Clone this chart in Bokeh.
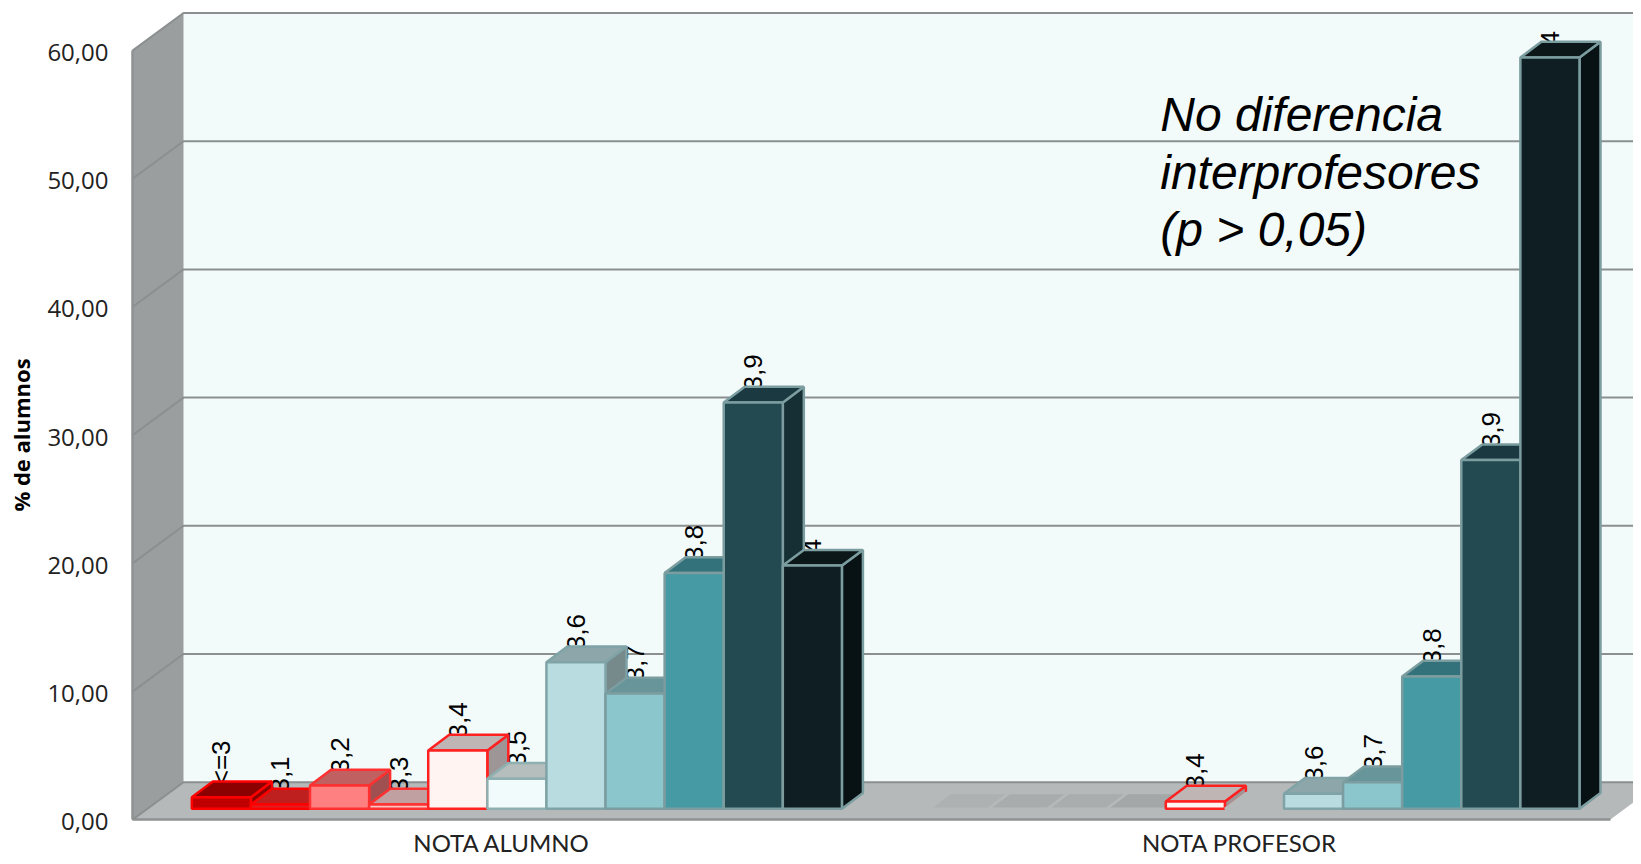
from bokeh.plotting import figure
from bokeh.models import Range1d, LinearAxis, FixedTicker, Label
from bokeh.core.properties import value
from bokeh.embed import file_html
from bokeh.resources import INLINE

grades = ["<=3", "3,1", "3,2", "3,3", "3,4", "3,5", "3,6", "3,7", "3,8", "3,9", "4"]
nota_alumno = [0.90, 0.33, 1.82, 0.33, 4.55, 2.34, 11.43, 9.00, 18.40, 31.70, 18.97]
nota_profesor = [0, 0, 0, 0, 0.57, 0, 1.17, 2.07, 10.32, 27.20, 58.60]
groups = ["NOTA ALUMNO", "NOTA PROFESOR"]
y_ticks = [0, 10, 20, 30, 40, 50, 60]
y_tick_labels = ["0,00", "10,00", "20,00", "30,00", "40,00", "50,00", "60,00"]
note_lines = ["No diferencia", "interprofesores", "(p > 0,05)"]

front = ["#C00000", "#E02020", "#FF8080", "#FFC4C4", "#FFF4F2", "#F2FBFB", "#B9DCE1", "#8AC6CC", "#459AA4", "#234A51", "#0F1E22"]
top = ["#8B0000", "#BE2020", "#C06060", "#C0A0A0", "#BFB5B5", "#B5BDBD", "#8DA6A9", "#689599", "#33727B", "#1A3940", "#0B1719"]
side = ["#8B0000", "#A01818", "#A05050", "#A08585", "#9E9696", "#989E9E", "#76898B", "#567B7F", "#2A5F66", "#162F34", "#081214"]
edge = ["#FF0000", "#FF0000", "#FF3030", "#FF3030", "#FF2020", "#8FB0B0", "#7FA3A6", "#7C9DA0", "#7C9DA0", "#7C9DA0", "#7C9DA0"]
zero_top = ["#AEB1B1", "#A9ACAC", "#AAADAD", "#A4A7A7", "#B5B9B9", "#B5B9B9", "#B5B9B9", "#B5B9B9", "#B5B9B9", "#B5B9B9", "#B5B9B9"]

BAR_PX = 59.1
UNIT_PX = 12.82
WIDTH, HEIGHT = 1633, 856
LEFT_PX, BOTTOM_PX = 132, 36.7   # canvas room left of and below the chart's origin
group_centers = [6.25, 18.73]
plane_dx, plane_dy = 15 / BAR_PX, 11 / UNIT_PX
depth_dx, depth_dy = 21 / BAR_PX, 15.7 / UNIT_PX
wall_dx, wall_dy = 51 / BAR_PX, 37.6 / UNIT_PX

x0_view = -LEFT_PX / BAR_PX
x1_view = (WIDTH - LEFT_PX) / BAR_PX
y0_view = -BOTTOM_PX / UNIT_PX
y1_view = (HEIGHT - BOTTOM_PX) / UNIT_PX

p = figure(width=WIDTH, height=HEIGHT, output_backend="svg", toolbar_location=None,
           x_range=Range1d(x0_view, x1_view), y_range=Range1d(y0_view, y1_view),
           x_axis_location=None, y_axis_location=None, min_border=0, outline_line_color=None)
p.grid.visible = False

ymax = y_ticks[-1]
x_far = x1_view + 2
right_front = 25.0

# walls and floor
p.patch([wall_dx, x_far, x_far, wall_dx], [wall_dy, wall_dy, ymax + wall_dy, ymax + wall_dy],
        fill_color="#F2FBFA", line_color=None)
p.patch([0, wall_dx, wall_dx, 0], [0, wall_dy, ymax + wall_dy, ymax],
        fill_color="#9A9E9E", line_color=None)
p.patch([0, right_front, right_front + wall_dx, wall_dx], [0, 0, wall_dy, wall_dy],
        fill_color="#B5B9B9", line_color=None)

# gridlines over back wall and side wall
gx, gy = [], []
for t in y_ticks:
    gx.append([0, wall_dx, x_far])
    gy.append([t, t + wall_dy, t + wall_dy])
p.multi_line(gx, gy, line_color="#8C8F8F", line_width=2)

# data labels lie behind the bars
for center, vals in zip(group_centers, [nota_alumno, nota_profesor]):
    lx, ly, lt = [], [], []
    for i, (g, v) in enumerate(zip(grades, vals)):
        if v > 0:
            lx.append(center - 5.5 + i + 0.5 + plane_dx)
            ly.append(v + plane_dy + 12 / UNIT_PX)
            lt.append(g)
    p.text(lx, ly, text=lt, angle=1.5708, text_align="left", text_baseline="middle",
           text_font=value("Liberation Sans"), text_font_size="26px", text_color="#000000")

# bars, painted left to right
xs, ys, fills, lines = [], [], [], []
for center, vals in zip(group_centers, [nota_alumno, nota_profesor]):
    for i, v in enumerate(vals):
        x0 = center - 5.5 + i + plane_dx
        x1 = x0 + 1
        b = plane_dy
        t = v + plane_dy
        if v == 0:
            xs.append([x0, x1, x1 + depth_dx, x0 + depth_dx])
            ys.append([t, t, t + depth_dy, t + depth_dy])
            fills.append(zero_top[i])
            lines.append("#B5B9B9")
            continue
        xs.append([x1, x1 + depth_dx, x1 + depth_dx, x1])
        ys.append([b, b + depth_dy, t + depth_dy, t])
        fills.append(side[i])
        lines.append(edge[i])
        xs.append([x0, x1, x1 + depth_dx, x0 + depth_dx])
        ys.append([t, t, t + depth_dy, t + depth_dy])
        fills.append(top[i])
        lines.append(edge[i])
        xs.append([x0, x1, x1, x0])
        ys.append([b, b, t, t])
        fills.append(front[i])
        lines.append(edge[i])
p.patches(xs, ys, fill_color=fills, line_color=lines, line_width=2.5)

# axes; the value labels sit a little under their gridline corners
label_ticks = [round(t - 2 / UNIT_PX, 3) for t in y_ticks]
yaxis = LinearAxis(ticker=FixedTicker(ticks=label_ticks), bounds=(0, ymax), axis_label="% de alumnos",
                   fixed_location=0,
                   major_label_overrides=dict(zip(label_ticks, y_tick_labels)),
                   major_tick_line_color=None, minor_tick_line_color=None,
                   axis_line_color="#8F9292", axis_line_width=2.5, major_label_standoff=18,
                   major_label_text_font="Open Sans", major_label_text_font_size="24px",
                   major_label_text_color="#222222", axis_label_text_font="Open Sans",
                   axis_label_text_font_style="bold", axis_label_text_font_size="22px",
                   axis_label_text_color="#000000", axis_label_standoff=8)
p.add_layout(yaxis, "left")
xaxis = LinearAxis(ticker=FixedTicker(ticks=group_centers), bounds=(0, right_front),
                   fixed_location=0,
                   major_label_overrides=dict(zip(group_centers, groups)),
                   major_tick_line_color=None, minor_tick_line_color=None,
                   axis_line_color="#8F9292", axis_line_width=2.5, major_label_standoff=2,
                   major_label_text_font="Lato", major_label_text_font_size="24px",
                   major_label_text_color="#222222")
p.add_layout(xaxis, "below")

# annotation
for line, ypos in zip(note_lines, [55.0, 50.5, 46.05]):
    p.add_layout(Label(x=17.39, y=ypos, text=line, text_baseline="middle", text_align="left",
                       text_font="Liberation Sans", text_font_style="italic",
                       text_font_size="48px", text_color="#000000"))

open("out.html", "w").write(file_html(p, INLINE))
